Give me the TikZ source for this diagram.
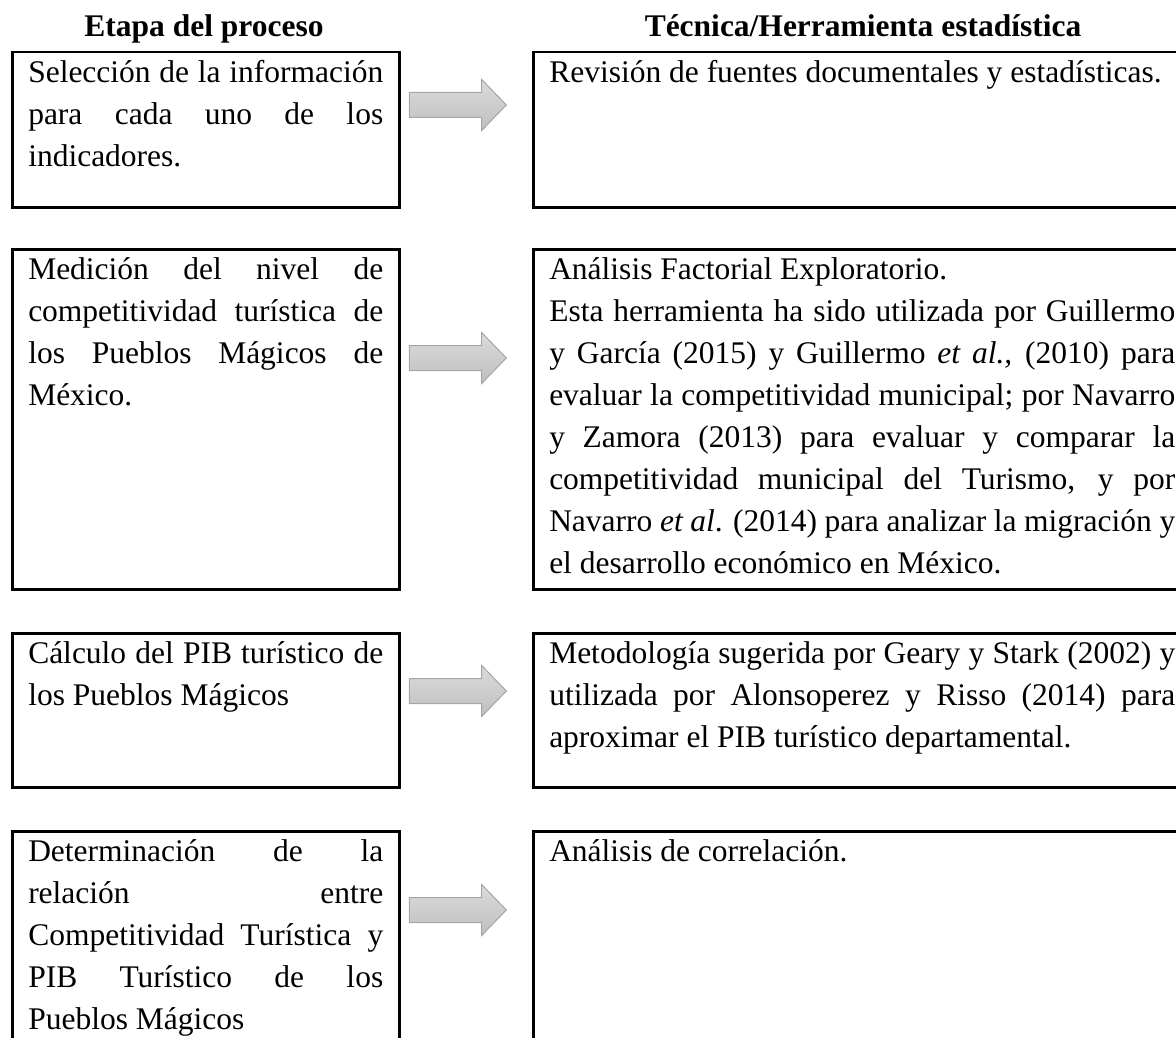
\documentclass[tikz,border=0pt]{standalone}
\usepackage{fontspec}
\setmainfont{Liberation Serif}
\usetikzlibrary{shapes.arrows}
\tolerance=10000
\hbadness=10000
\hyphenpenalty=10000

\begin{document}
\begin{tikzpicture}[x=1pt,y=-1pt,
  every node/.style={font=\fontsize{31.5}{42}\selectfont},
  etapa/.style={draw,line width=2.5pt,anchor=north west,inner xsep=16pt,inner ysep=0pt,
    text width=355pt,align=justify,text height=30pt,text depth=#1},
  tecnica/.style={etapa=#1,text width=626pt},
  flecha/.style={single arrow,anchor=tip,minimum height=97pt,inner xsep=0pt,inner ysep=12pt,
    single arrow head extend=13pt,single arrow tip angle=92,
    top color=black!14,bottom color=black!25,draw=black!35,line width=1pt},
  titulo/.style={anchor=base,font=\fontsize{31.5}{42}\selectfont\bfseries}]
\useasboundingbox (0,0) rectangle (1176,1038);
\clip (0,0) rectangle (1176,1038);

\path (204,37) node[titulo] (h1) {Etapa del proceso};
\path (863,37) node[titulo] (h2) {Técnica/Herramienta estadística};

\path (11,51) node[etapa=125pt] (l1) {Selección de la información\linebreak para cada uno de los\linebreak indicadores.};
\path (532,51) node[tecnica=125pt] (r1) {Revisión de fuentes documentales y estadísticas.};
\path (507,105) node[flecha] (f1) {};

\path (11,248) node[etapa=310pt] (l2) {Medición del nivel de\linebreak competitividad turística de\linebreak los Pueblos Mágicos de\linebreak México.};
\path (532,248) node[tecnica=310pt] (r2) {Análisis Factorial Exploratorio.\par
Esta herramienta ha sido utilizada por Guillermo\linebreak y García (2015) y Guillermo \textit{et al.,} (2010) para\linebreak evaluar la competitividad municipal; por Navarro\linebreak y Zamora (2013) para evaluar y comparar la\linebreak competitividad municipal del Turismo, y por\linebreak Navarro \textit{et al}. (2014) para analizar la migración y\linebreak el desarrollo económico en México.};
\path (507,358) node[flecha] (f2) {};

\path (11,632) node[etapa=124pt] (l3) {Cálculo del PIB turístico de\linebreak los Pueblos Mágicos};
\path (532,632) node[tecnica=124pt] (r3) {Metodología sugerida por Geary y Stark (2002) y\linebreak utilizada por Alonsoperez y Risso (2014) para\linebreak aproximar el PIB turístico departamental.};
\path (507,691) node[flecha] (f3) {};

\path (11,830) node[etapa=210pt] (l4) {Determinación de la\linebreak relación entre\linebreak Competitividad Turística y\linebreak PIB Turístico de los\linebreak Pueblos Mágicos};
\path (532,830) node[tecnica=210pt] (r4) {Análisis de correlación.};
\path (507,910) node[flecha] (f4) {};
\end{tikzpicture}
\end{document}
